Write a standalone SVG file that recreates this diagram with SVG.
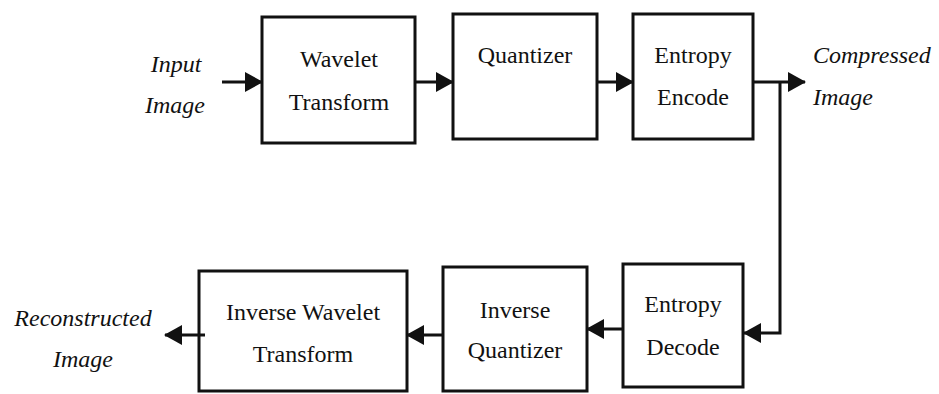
<svg xmlns="http://www.w3.org/2000/svg" width="939" height="394" viewBox="0 0 939 394">
  <defs>
    <style>
      text { font-family: 'Liberation Serif', 'Times New Roman', serif !important; }
      .box { fill: #ffffff; stroke: #111; stroke-width: 3; }
      .lbl { font-size: 24px; fill: #111; text-anchor: middle; }
      .io { font-size: 24px; font-style: italic; fill: #111; }
      .wire { fill: none; stroke: #111; stroke-width: 3; }
    </style>
    <marker id="arrow" viewBox="0 0 18 20" refX="17" refY="10" markerWidth="18" markerHeight="20" markerUnits="userSpaceOnUse" orient="auto">
      <path d="M0,0 L18,10 L0,20 Z" fill="#111"/>
    </marker>
  </defs>
  <rect width="939" height="394" fill="#ffffff"/>

  <!-- input / output labels -->
  <g id="input-image">
    <text class="io" x="176" y="72" text-anchor="middle">Input</text>
    <text class="io" x="175" y="113" text-anchor="middle">Image</text>
  </g>
  <g id="compressed-image">
    <text class="io" x="813" y="63">Compressed</text>
    <text class="io" x="813" y="105">Image</text>
  </g>
  <g id="reconstructed-image">
    <text class="io" x="83" y="326" text-anchor="middle">Reconstructed</text>
    <text class="io" x="83" y="367" text-anchor="middle">Image</text>
  </g>

  <!-- encoder chain -->
  <g id="wavelet-transform">
    <rect class="box" x="262" y="17" width="153" height="126"/>
    <text class="lbl" x="339" y="67">Wavelet</text>
    <text class="lbl" x="339" y="110">Transform</text>
  </g>
  <g id="quantizer">
    <rect class="box" x="453" y="14" width="144" height="125"/>
    <text class="lbl" x="525" y="63">Quantizer</text>
  </g>
  <g id="entropy-encode">
    <rect class="box" x="633" y="14" width="120" height="125"/>
    <text class="lbl" x="693" y="63">Entropy</text>
    <text class="lbl" x="693" y="105">Encode</text>
  </g>

  <!-- decoder chain -->
  <g id="entropy-decode">
    <rect class="box" x="623" y="264" width="120" height="123"/>
    <text class="lbl" x="683" y="312">Entropy</text>
    <text class="lbl" x="683" y="355">Decode</text>
  </g>
  <g id="inverse-quantizer">
    <rect class="box" x="443" y="267" width="144" height="124"/>
    <text class="lbl" x="515" y="318">Inverse</text>
    <text class="lbl" x="515" y="358">Quantizer</text>
  </g>
  <g id="inverse-wavelet-transform">
    <rect class="box" x="199" y="271" width="208" height="120"/>
    <text class="lbl" x="303" y="320">Inverse Wavelet</text>
    <text class="lbl" x="303" y="362">Transform</text>
  </g>

  <!-- connectors -->
  <g id="connectors">
    <line class="wire" x1="222" y1="82" x2="262" y2="82" marker-end="url(#arrow)"/>
    <line class="wire" x1="415" y1="82" x2="453" y2="82" marker-end="url(#arrow)"/>
    <line class="wire" x1="597" y1="82" x2="633" y2="82" marker-end="url(#arrow)"/>
    <line class="wire" x1="753" y1="82" x2="805" y2="82" marker-end="url(#arrow)"/>
    <polyline class="wire" points="780,82 780,333 744,333" marker-end="url(#arrow)"/>
    <line class="wire" x1="623" y1="329" x2="587" y2="329" marker-end="url(#arrow)"/>
    <line class="wire" x1="443" y1="335" x2="407" y2="335" marker-end="url(#arrow)"/>
    <line class="wire" x1="205" y1="335" x2="165" y2="335" marker-end="url(#arrow)"/>
  </g>
</svg>
